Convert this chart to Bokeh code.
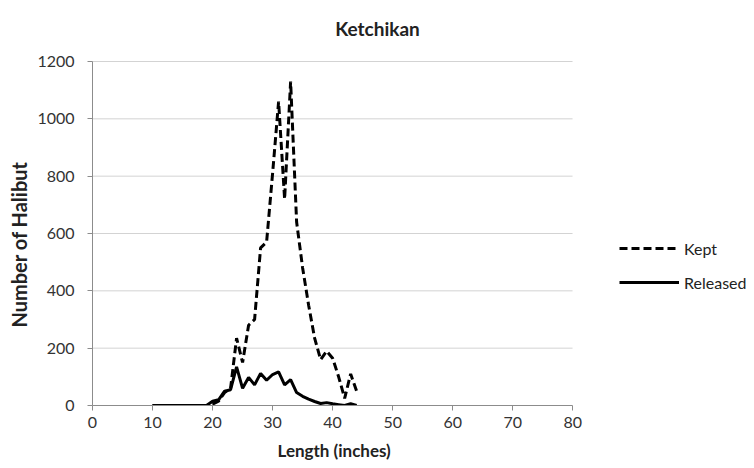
from bokeh.plotting import figure
from bokeh.models import Range1d, Legend, LegendItem, FixedTicker, Label, Title
from bokeh.embed import file_html
from bokeh.resources import INLINE

# Data (length in inches vs number of halibut)
length = list(range(10, 45))
kept = [0, 0, 0, 0, 0, 0, 0, 0, 0, 0,
        5, 15, 45, 60, 235, 150, 280, 300, 550, 570,
        810, 1060, 720, 1130, 640, 480, 350, 235, 160, 190,
        165, 100, 25, 110, 50]
released = [0, 0, 0, 0, 0, 0, 0, 0, 0, 0,
            15, 20, 50, 55, 135, 60, 98, 72, 112, 88,
            108, 117, 72, 90, 45, 32, 22, 14, 7, 10,
            6, 3, 0, 6, 0]
x_ticks = [0, 10, 20, 30, 40, 50, 60, 70, 80]
y_ticks = [0, 200, 400, 600, 800, 1000, 1200]
X_MIN, X_MAX = 0, 80
Y_MIN, Y_MAX = 0, 1200

FONT = "Lato"
W, H = 754, 468
LEFT, BOTTOM = 91, 63
PLOT_W, PLOT_H = 481, 344   # pixel size of the axes area

# the frame covers the whole page to the right and top so that the title and
# legend (outside the axes area) can be drawn without clipping
frame_w = W - LEFT
frame_h = H - BOTTOM
x_end = X_MIN + (X_MAX - X_MIN) * frame_w / PLOT_W
y_end = Y_MIN + (Y_MAX - Y_MIN) * frame_h / PLOT_H

p = figure(width=W, height=H, output_backend="svg", toolbar_location=None,
           x_range=Range1d(X_MIN, x_end), y_range=Range1d(Y_MIN, y_end),
           min_border_left=LEFT, min_border_right=0, min_border_top=0,
           min_border_bottom=BOTTOM)
p.outline_line_color = None
p.background_fill_color = "white"
p.border_fill_color = "white"

for ax in (p.xaxis[0], p.yaxis[0]):
    ax.axis_line_color = "#8c8c8c"
    ax.major_tick_line_color = "#8c8c8c"
    ax.minor_tick_line_color = None
    ax.major_tick_in = 0
    ax.major_tick_out = 5
    ax.major_label_text_font = FONT
    ax.major_label_text_font_size = "16px"
    ax.major_label_text_color = "#333333"

p.xaxis.bounds = (X_MIN, X_MAX)
p.yaxis.bounds = (Y_MIN, Y_MAX)
p.xaxis.ticker = FixedTicker(ticks=x_ticks)
p.yaxis.ticker = FixedTicker(ticks=y_ticks)
p.xaxis.major_label_standoff = 6
p.yaxis.major_label_standoff = 13

# axis titles, centred on the axes area (not on the whole frame)
x_title = Title(text="Length (inches)", align="left", offset=185, standoff=14,
                text_font=FONT, text_font_size="17px", text_font_style="bold",
                text_color="#222222")
p.add_layout(x_title, "below")
y_title = Title(text="Number of Halibut", align="left", offset=78, standoff=8,
                text_font=FONT, text_font_size="20px", text_font_style="bold",
                text_color="#222222")
p.add_layout(y_title, "left")

p.xgrid.grid_line_color = None
p.ygrid.grid_line_color = None
grid_y = y_ticks[1:]
p.segment(x0=[X_MIN] * len(grid_y), x1=[X_MAX] * len(grid_y), y0=grid_y, y1=grid_y,
          line_color="#a6a6a6", line_dash="1 1", line_width=1)

r_kept = p.line(length, kept, line_color="black", line_width=3, line_dash="8 4")
r_rel = p.line(length, released, line_color="black", line_width=3)

title = Label(x=376 - LEFT, y=frame_h - 28, x_units="screen", y_units="screen",
              text="Ketchikan", text_align="center", text_baseline="alphabetic",
              text_font=FONT, text_font_size="19px", text_font_style="bold",
              text_color="#222222")
p.add_layout(title)

legend = Legend(items=[LegendItem(label="Kept", renderers=[r_kept]),
                       LegendItem(label="Released", renderers=[r_rel])],
                location=(618 - LEFT, frame_h - 292), orientation="vertical",
                background_fill_alpha=0, border_line_color=None,
                label_text_font=FONT, label_text_font_size="16px",
                label_text_color="#222222",
                glyph_width=60, glyph_height=20, label_height=20,
                spacing=14, padding=0, margin=0, label_standoff=5)
p.add_layout(legend, "center")

open("out.html", "w").write(file_html(p, INLINE))
